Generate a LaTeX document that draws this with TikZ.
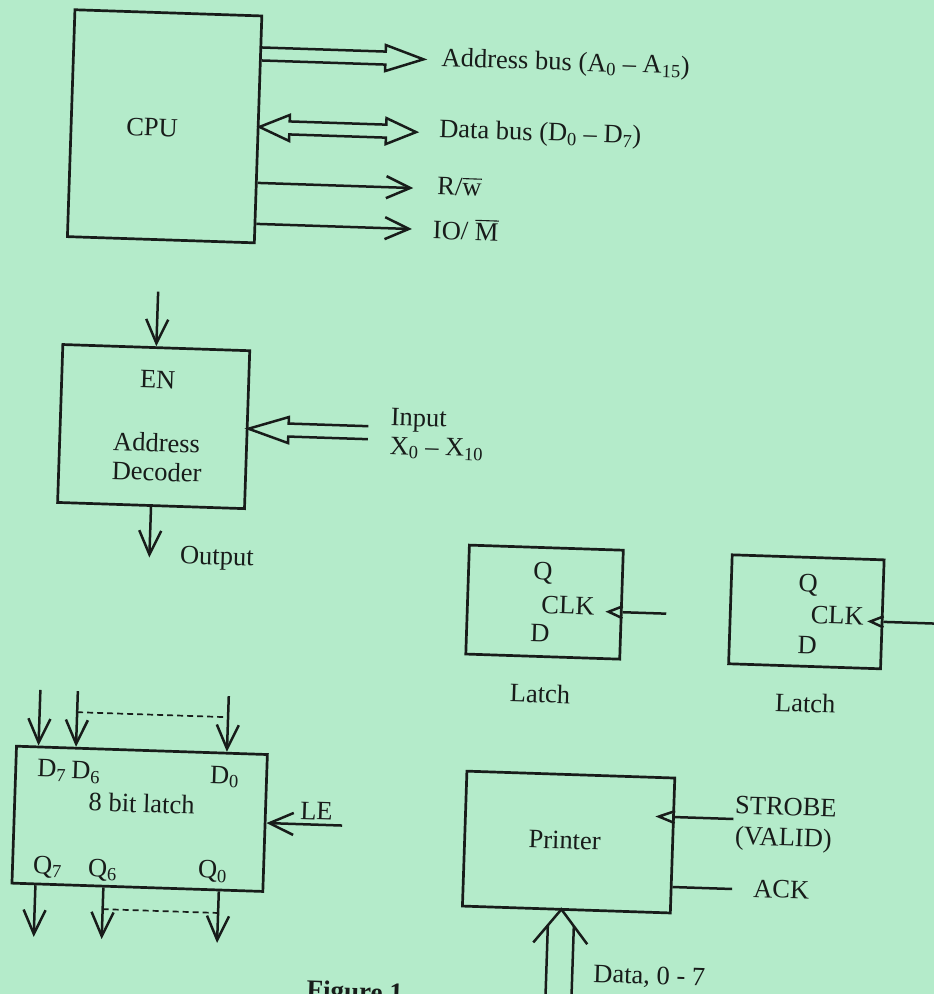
\documentclass[tikz,border=0pt]{standalone}
\usepackage{fontspec}
\setmainfont{Liberation Serif}
\usetikzlibrary{arrows.meta,calc}
\definecolor{paper}{RGB}{180,235,202}
\definecolor{ink}{RGB}{24,28,26}
\newcommand\ovbar[2][3pt]{\vbox{\hrule height 1.1pt\kern#1\hbox{#2}}}
\begin{document}
\begin{tikzpicture}[x=1pt,y=-1pt,
  box/.style={draw=ink,line width=2.7pt,inner sep=0pt},
  lbl/.style={text=ink,inner sep=0pt,font=\fontsize{26.5}{30}\selectfont},
  ln/.style={draw=ink,line width=2.5pt},
  arr/.style={ln,-{Straight Barb[length=24pt,width=22pt]}},
  dsh/.style={draw=ink,line width=1.7pt,dash pattern=on 6pt off 4pt}]
\fill[paper] (0,0) rectangle (934,994);
\useasboundingbox (0,0) rectangle (934,994);
\begin{scope}[transform canvas={rotate around={-1.9:(467,497)}}]
% ---------------- CPU ----------------
\node[box,minimum width=187pt,minimum height=227pt] (cpu) at (152.5,136.5) {};
\node[lbl] (cputxt) at (140,138) {CPU};
% address bus (hollow arrow)
\coordinate (abtip) at (409,61);
\draw[ln] ($(cpu.east|-abtip)+(0,-6.5)$) -- ($(abtip)+(-38,-6.5)$) -- ($(abtip)+(-38,-13)$) -- (abtip)
  -- ($(abtip)+(-38,13)$) -- ($(abtip)+(-38,6.5)$) -- ($(cpu.east|-abtip)+(0,6.5)$);
\node[lbl,anchor=west] (ablab) at (427,61) {Address bus (A\textsubscript{0} – A\textsubscript{15})};
% data bus (hollow double-headed arrow)
\coordinate (dbtip) at (404,134);
\coordinate (dbl) at (cpu.east|-dbtip);
\draw[ln] ($(dbl)+(30,-6.5)$) -- ($(dbtip)+(-30,-6.5)$) -- ($(dbtip)+(-30,-13)$) -- (dbtip)
  -- ($(dbtip)+(-30,13)$) -- ($(dbtip)+(-30,6.5)$) -- ($(dbl)+(30,6.5)$) -- ($(dbl)+(30,13)$)
  -- (dbl) -- ($(dbl)+(30,-13)$) -- cycle;
\node[lbl,anchor=west] (dblab) at (427,132) {Data bus (D\textsubscript{0} – D\textsubscript{7})};
% R/w and IO/M
\coordinate (rwtip) at (403,190);
\draw[arr] (cpu.east|-rwtip) -- (rwtip);
\node[lbl,anchor=west] (rwlab) at (427,187) {R/\ovbar[4pt]{w}};
\coordinate (iotip) at (403,231);
\draw[arr] (cpu.east|-iotip) -- (iotip);
\node[lbl,anchor=west] (iolab) at (424,230) {IO/ \ovbar[2pt]{M}};
% ---------------- Address decoder ----------------
\node[box,minimum width=187pt,minimum height=158pt] (dec) at (151.5,437) {};
\coordinate (enin) at (151.5,302);
\draw[arr] (enin) -- (dec.north);
\node[lbl] (en) at (154,390) {EN};
\node[lbl] (adr) at (155,453) {Address};
\node[lbl] (dcd) at (156,482) {Decoder};
\coordinate (inend) at (366,436);
\coordinate (intip) at (dec.east|-inend);
\draw[ln] ($(inend)+(0,-6.5)$) -- ($(intip)+(40,-6.5)$) -- ($(intip)+(40,-13)$) -- (intip)
  -- ($(intip)+(40,13)$) -- ($(intip)+(40,6.5)$) -- ($(inend)+(0,6.5)$);
\node[lbl,anchor=west] (inlab) at (388,422) {Input};
\node[lbl,anchor=west] (inx) at (388,450) {X\textsubscript{0} – X\textsubscript{10}};
\coordinate (outend) at (151.5,568);
\draw[arr] (dec.south) -- (outend);
\node[lbl,anchor=west] (outlab) at (182,567) {Output};
% ---------------- 8 bit latch ----------------
\node[box,minimum width=251pt,minimum height=137pt] (lat) at (150.5,829.5) {};
\coordinate (d7in) at (47,704);
\coordinate (d6in) at (84.5,704);
\coordinate (d0in) at (235.5,704);
\draw[arr] (d7in) -- (d7in|-lat.north);
\draw[arr] (d6in) -- (d6in|-lat.north);
\draw[arr] (d0in) -- (d0in|-lat.north);
\draw[dsh] ($(d6in)+(0,21)$) -- ($(d0in)+(0,21)$);
\node[lbl] (d7) at (61,784) {D\textsubscript{7}};
\node[lbl] (d6) at (95,785) {D\textsubscript{6}};
\node[lbl] (d0) at (234,785) {D\textsubscript{0}};
\node[lbl] (lattxt) at (152,814) {8 bit latch};
\node[lbl] (q7) at (60,881) {Q\textsubscript{7}};
\node[lbl] (q6) at (115,882) {Q\textsubscript{6}};
\node[lbl] (q0) at (225,880) {Q\textsubscript{0}};
\coordinate (q7out) at (48.5,951);
\coordinate (q6out) at (116.5,951);
\coordinate (q0out) at (232,951);
\draw[arr] (q7out|-lat.south) -- (q7out);
\draw[arr] (q6out|-lat.south) -- (q6out);
\draw[arr] (q0out|-lat.south) -- (q0out);
\draw[dsh] ($(q6out)+(0,-30)$) -- ($(q0out)+(0,-30)$);
\coordinate (lein) at (353,829.5);
\draw[arr] (lein) -- (lat.east|-lein);
\node[lbl] (le) at (327,816) {LE};
% ---------------- Latch 1 ----------------
\node[box,minimum width=154pt,minimum height=109pt] (la) at (548,599.5) {};
\node[lbl] (laq) at (545.5,571) {Q};
\node[lbl] (laclk) at (571.5,602) {CLK};
\node[lbl] (lad) at (544.5,631) {D};
\coordinate (lac) at (670,607);
\coordinate (laedge) at (la.east|-lac);
\draw[ln] (lac) -- (laedge);
\draw[ln] ($(laedge)+(0,-6)$) -- ($(laedge)+(-14,0)$) -- ($(laedge)+(0,6)$);
\node[lbl] (lalab) at (546.5,691) {Latch};
% ---------------- Latch 2 ----------------
\node[box,minimum width=152pt,minimum height=109pt] (lb) at (810,600.5) {};
\node[lbl] (lbq) at (811,574) {Q};
\node[lbl] (lbclk) at (841,603) {CLK};
\node[lbl] (lbd) at (812,634) {D};
\coordinate (lbc) at (950,608);
\coordinate (lbedge) at (lb.east|-lbc);
\draw[ln] (lbc) -- (lbedge);
\draw[ln] ($(lbedge)+(0,-5.5)$) -- ($(lbedge)+(-13,0)$) -- ($(lbedge)+(0,5.5)$);
\node[lbl] (lblab) at (812,692) {Latch};
% ---------------- Printer ----------------
\node[box,minimum width=208pt,minimum height=135pt] (prn) at (580,838.5) {};
\node[lbl] (prt) at (576,837) {Printer};
\coordinate (stb) at (744,810);
\coordinate (stbedge) at (prn.east|-stb);
\draw[ln] (stb) -- (stbedge);
\draw[ln] ($(stbedge)+(0,-6)$) -- ($(stbedge)+(-16,0)$) -- ($(stbedge)+(0,6)$);
\node[lbl,anchor=west] (stblab) at (745,796) {STROBE};
\node[lbl,anchor=west] (vallab) at (746,829) {(VALID)};
\coordinate (ackend) at (745,880);
\draw[ln] (prn.east|-ackend) -- (ackend);
\node[lbl,anchor=west] (acklab) at (766,879) {ACK};
\coordinate (dapex) at (575,906);
\draw[ln] ($(dapex)+(-27,34)$) -- (dapex) -- ($(dapex)+(27,34)$);
\draw[ln] ($(dapex)+(-13,16.4)$) -- ($(dapex)+(-13,110)$);
\draw[ln] ($(dapex)+(13,16.4)$) -- ($(dapex)+(13,110)$);
\node[lbl,anchor=west] (datlab) at (609,971) {Data, 0 - 7};
% ---------------- caption ----------------
\node[lbl,font=\fontsize{27}{32}\selectfont\bfseries,anchor=north west] (fig) at (323,985) {Figure 1};
\end{scope}
\end{tikzpicture}
\end{document}
